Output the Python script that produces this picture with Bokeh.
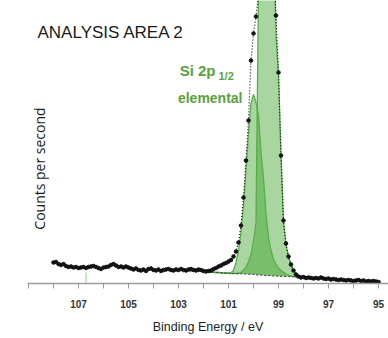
import numpy as np
from math import pi
from bokeh.plotting import figure
from bokeh.models import Range1d, FixedTicker
from bokeh.core.properties import value
from bokeh.embed import file_html
from bokeh.resources import INLINE

# ---- measured spectrum (108.0 -> 95.0 eV, 0.1 eV steps) ----
energy = np.round(108.0 - 0.1 * np.arange(131), 1)
counts = [84, 86, 78, 74, 78, 70, 66, 68, 64, 66,
          62, 64, 66, 62, 66, 68, 70, 66, 62, 58,
          64, 66, 68, 74, 78, 72, 66, 68, 64, 68,
          64, 60, 56, 60, 54, 52, 56, 50, 58, 60,
          54, 52, 56, 50, 54, 56, 58, 54, 52, 56,
          54, 58, 54, 52, 56, 58, 54, 52, 56, 54,
          50, 48, 50, 52, 58, 62, 68, 72, 78, 82,
          88, 94, 108, 128, 164, 232, 344, 492, 652, 892,
          1000, 1068, 1152, 1420, 1720, 1900, 1880, 1640, 1320, 1072,
          844, 512, 252, 160, 108, 76, 52, 36, 28, 24,
          26, 22, 24, 22, 20, 22, 20, 24, 20, 18,
          20, 16, 18, 16, 14, 16, 14, 12, 14, 12,
          10, 12, 14, 10, 12, 8, 10, 8, 10, 8, 6]

# ---- fit components (102.6 -> 98.0 eV, 0.1 eV steps) ----
fit_energy = np.round(102.6 - 0.1 * np.arange(47), 1)
background = [52, 51, 51, 50, 50, 49, 48, 48, 47, 46, 45, 44, 44, 43,
              42, 42, 41, 40, 40, 40, 39, 39, 38, 38, 37, 37, 36, 35, 34, 34, 33,
              32, 32, 31, 30, 30, 29, 29, 28, 28, 28, 27, 27, 26, 26, 26, 26]
si2p32 = [0] * 20 + [2, 6, 15, 26, 50, 79, 133, 207, 1138, 1500, 1800, 1950, 1950,
                     1750, 1400, 962, 803, 483, 216, 124, 80, 49, 25, 10, 2, 0, 0]
si2p12 = [0] * 17 + [2, 12, 44, 93, 165, 274, 414, 563, 683, 720, 689, 638, 490,
                     387, 248, 152, 100, 66, 48, 32, 23, 17, 10, 6, 3, 1, 0, 0, 0, 0]

marker_energy = [106.7, 106.7]
marker_counts = [0, 44]

tick_values = list(range(95, 110))
tick_labels = {t: (str(t) if (t % 2 == 1 and t < 109) else "") for t in tick_values}

bg = np.array(background)
main_top = bg + np.array(si2p32)
small_top = bg + np.array(si2p12)

p = figure(width=388, height=338, x_range=Range1d(109.04, 94.6), y_range=Range1d(0, 1132),
           output_backend="svg", toolbar_location=None, y_axis_location=None,
           min_border_left=27, min_border_right=0, min_border_top=0, min_border_bottom=55)
p.grid.visible = False
p.outline_line_color = None

fill = "#3ca227"
p.varea(x=fit_energy, y1=bg, y2=main_top, fill_color=fill, fill_alpha=0.44)
p.varea(x=fit_energy, y1=bg, y2=small_top, fill_color=fill, fill_alpha=0.44)
p.line(fit_energy, main_top, line_color="#55ad48", line_width=1.3)
p.line(fit_energy, small_top, line_color="#55ad48", line_width=1.3)
p.line(fit_energy, bg, line_color="#333333", line_width=1, line_dash="2 2")
p.line(marker_energy, marker_counts, line_color="#a6d89f", line_width=1.2)

p.line(energy, counts, line_color="#111111", line_width=1.2, line_dash="1 2")
p.scatter(energy, counts, size=3.6, fill_color="#111111", line_color="#111111")

ax = p.xaxis[0]
ax.ticker = FixedTicker(ticks=tick_values)
ax.major_label_overrides = tick_labels
ax.axis_line_color = "#9a9a9a"
ax.axis_line_width = 1.5
ax.major_tick_line_color = "#9a9a9a"
ax.major_tick_in = 0
ax.major_tick_out = 5
ax.minor_tick_line_color = None
ax.major_label_standoff = 11
ax.major_label_text_font = "Liberation Sans"
ax.major_label_text_font_style = "bold"
ax.major_label_text_font_size = "10px"
ax.major_label_text_color = "#333333"
ax.axis_label = "Binding Energy / eV"
ax.axis_label_text_font = "Liberation Sans"
ax.axis_label_text_font_style = "normal"
ax.axis_label_text_font_size = "12.5px"
ax.axis_label_text_color = "#222222"
ax.axis_label_standoff = 9

p.text(x=[108.64], y=[1004], text=["ANALYSIS AREA 2"], text_font=value("Liberation Sans"),
       text_font_size="17px", text_color="#1a1a1a", text_align="left", text_baseline="alphabetic")
p.text(x=[101.52], y=[852], text=["Si 2p"], text_font=value("Liberation Sans"),
       text_font_size="15px", text_font_style="bold", text_color="#5a9f3e",
       text_align="right", text_baseline="alphabetic")
p.text(x=[101.40], y=[832], text=["1/2"], text_font=value("Liberation Sans"),
       text_font_size="11px", text_font_style="bold", text_color="#5a9f3e",
       text_align="left", text_baseline="alphabetic")
p.text(x=[100.44], y=[744], text=["elemental"], text_font=value("Liberation Sans"),
       text_font_size="14px", text_font_style="bold", text_color="#5a9f3e",
       text_align="right", text_baseline="alphabetic")
p.text(x=[108.56], y=[460], text=["Counts per second"], text_font=value("Open Sans"),
       text_font_size="14px", text_color="#1a1a1a", angle=pi / 2,
       text_align="center", text_baseline="middle")

open("out.html", "w").write(file_html(p, INLINE))
